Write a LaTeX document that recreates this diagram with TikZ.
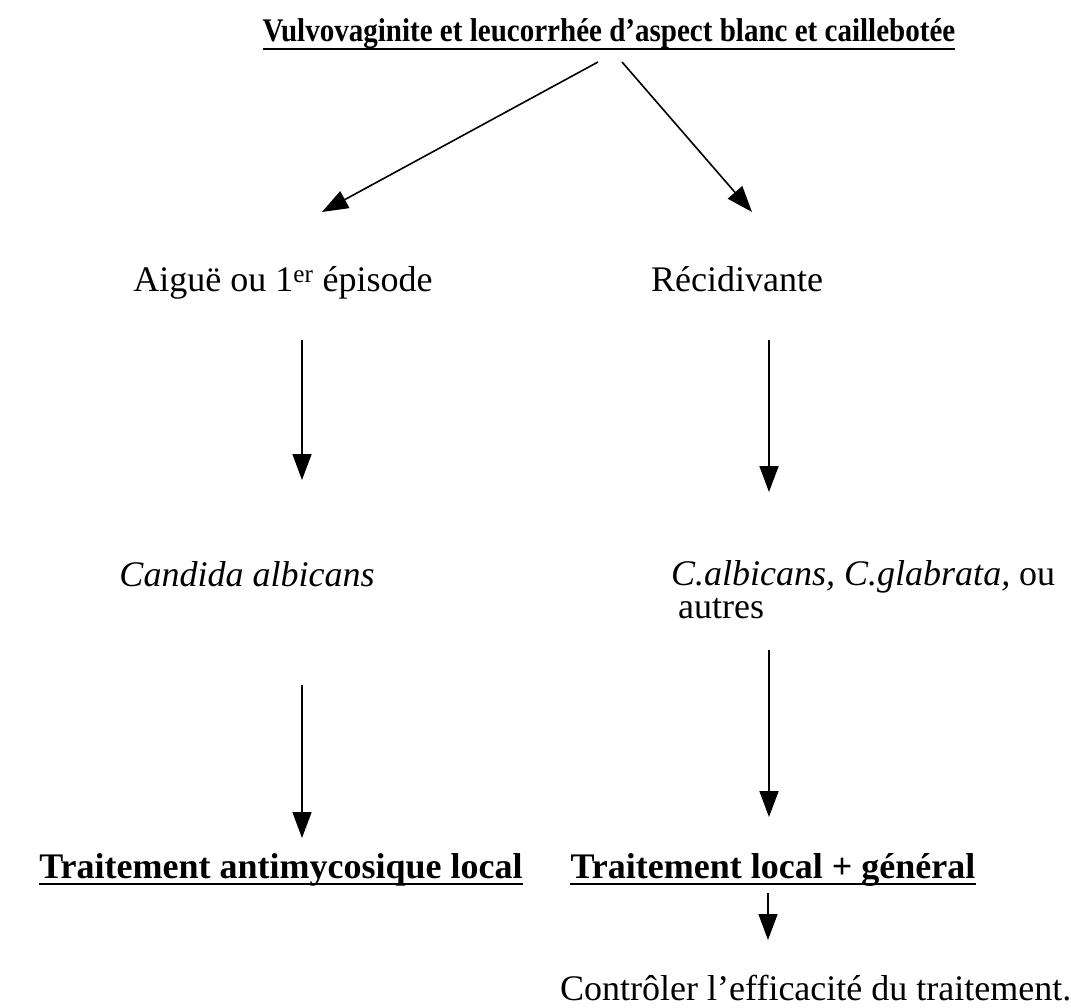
\documentclass[tikz,border=0pt]{standalone}
\usepackage{fontspec}
\setmainfont{Liberation Serif}
\usetikzlibrary{arrows.meta}
\begin{document}
\begin{tikzpicture}[x=1pt,y=-1pt,
  txt/.style={inner sep=0pt, anchor=base, font=\fontsize{36}{42}\selectfont},
  ttl/.style={inner sep=0pt, anchor=base, font=\fontsize{36}{42}\selectfont\bfseries},
  arr/.style={line width=1.6pt, -{Triangle[length=26pt,width=19pt]}},
  ul/.style={line width=2pt}]
\useasboundingbox (0,0) rectangle (1071,1008);
\fill[white] (0,0) rectangle (1071,1008);
% texts
\node[ttl, font=\fontsize{33}{38}\selectfont\bfseries] (title) at (609,42) {\scalebox{0.88}[1]{Vulvovaginite et leucorrhée d’aspect blanc et caillebotée}};
\draw[ul] ([yshift=-7pt]title.base west) -- ([yshift=-7pt]title.base east);
\node[txt] (aigue) at (283,292) {Aiguë ou 1\textsuperscript{er} épisode};
\node[txt] (recid) at (737,292) {Récidivante};
\node[txt] (candida) at (247,586) {\itshape Candida albicans};
\node[txt, anchor=base west] (calb) at (671,585) {\textit{C.albicans, C.glabrata,} ou};
\node[txt, anchor=base west] (autres) at (678,618) {autres};
\node[ttl] (tloc) at (281,878) {Traitement antimycosique local};
\node[ttl] (tgen) at (773,878) {Traitement local + général};
\draw[ul] ([yshift=-6pt]tloc.base west) -- ([yshift=-6pt]tloc.base east);
\draw[ul] ([yshift=-6pt]tgen.base west) -- ([yshift=-6pt]tgen.base east);
\node[txt, anchor=base west] (ctrl) at (560,1000) {Contrôler l’efficacité du traitement.};
% connector end points
\coordinate (s1) at (598,62);
\coordinate (e1) at (322,212);
\coordinate (s2) at (622,62);
\coordinate (e2) at (752,212);
\coordinate (s3) at (302,340);
\coordinate (e3) at (302,480);
\coordinate (s4) at (769,340);
\coordinate (e4) at (769,492);
\coordinate (s5) at (302,685);
\coordinate (e5) at (302,838);
\coordinate (s6) at (769,650);
\coordinate (e6) at (769,817);
\coordinate (s7) at (768,893);
\coordinate (e7) at (768,940);
\draw[arr] (s1) -- (e1);
\draw[arr] (s2) -- (e2);
\draw[arr] (s3) -- (e3);
\draw[arr] (s4) -- (e4);
\draw[arr] (s5) -- (e5);
\draw[arr] (s6) -- (e6);
\draw[arr] (s7) -- (e7);
\end{tikzpicture}
\end{document}
